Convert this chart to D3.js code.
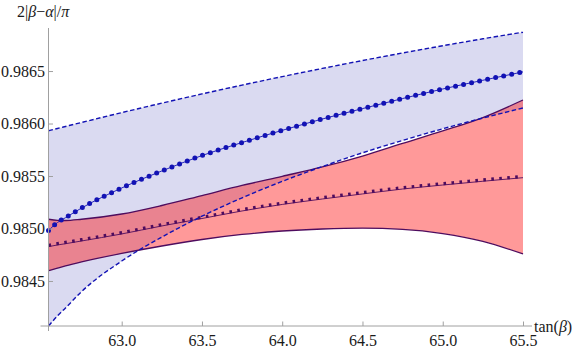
<!DOCTYPE html>
<html>
<head>
<meta charset="utf-8">
<script src="https://cdn.jsdelivr.net/npm/d3@7"></script>
<style>
  body { margin: 0; background: #fff; }
  svg { display: block; }
  svg text { font-family: "Liberation Serif", "Times New Roman", Times, "DejaVu Serif", serif !important; }
</style>
</head>
<body>
<svg id="chart" width="581" height="352"></svg>
<script>
// tan(beta) sample positions
var tanB = [62.544, 62.6, 62.65, 62.75, 63.0, 63.25, 63.5, 63.75, 64.0, 64.25, 64.5, 64.75, 65.0, 65.25, 65.5];

// blue band (dashed edges) and its central dotted curve
var blueUpper = [0.985931, 0.985953, 0.985972, 0.986010, 0.986104, 0.986194, 0.986282, 0.986366, 0.986447, 0.986525, 0.986600, 0.986672, 0.986741, 0.986807, 0.986870];
var blueLower = [0.984071, 0.984167, 0.984243, 0.984399, 0.984690, 0.984918, 0.985117, 0.985292, 0.985449, 0.985590, 0.985721, 0.985839, 0.985950, 0.986052, 0.986148];
var blueMid   = [0.984981, 0.985057, 0.985103, 0.985195, 0.985386, 0.985548, 0.985695, 0.985819, 0.985935, 0.986043, 0.986142, 0.986238, 0.986329, 0.986412, 0.986492];

// red band (solid edges) and its central triangle curve
var redUpper = [0.985088, 0.985078, 0.985076, 0.985088, 0.985138, 0.985219, 0.985314, 0.985410, 0.985497, 0.985586, 0.985690, 0.985810, 0.985929, 0.986057, 0.986224];
var redMid   = [0.984827, 0.984843, 0.984855, 0.984881, 0.984948, 0.985024, 0.985095, 0.985167, 0.985229, 0.985281, 0.985329, 0.985376, 0.985414, 0.985450, 0.985484];
var redLower = [0.984598, 0.984622, 0.984643, 0.984681, 0.984762, 0.984833, 0.984895, 0.984943, 0.984976, 0.984995, 0.985003, 0.984992, 0.984952, 0.984878, 0.984757];

// ticks
var xMajor = [63.0, 63.5, 64.0, 64.5, 65.0, 65.5];
var yMajor = [0.9845, 0.9850, 0.9855, 0.9860, 0.9865];

var serif = "'Liberation Serif', 'Times New Roman', Times, 'DejaVu Serif', serif";

var svg = d3.select("#chart");

var x = d3.scaleLinear().domain([62.544, 65.5]).range([48.5, 523]);
var y = d3.scaleLinear().domain([0.984071, 0.98691]).range([326, 28]);

var xMinor = d3.range(62.6, 65.55, 0.1).map(function(d) { return +d.toFixed(1); });
var yMinor = d3.range(0.9841, 0.98695, 0.0001).map(function(d) { return +d.toFixed(4); });

function series(vals) {
    return tanB.map(function(t, i) { return [t, vals[i]]; });
}
function band(lo, hi) {
    return tanB.map(function(t, i) { return [t, lo[i], hi[i]]; });
}

var line = d3.line()
    .x(function(d) { return x(d[0]); })
    .y(function(d) { return y(d[1]); })
    .curve(d3.curveMonotoneX);

var area = d3.area()
    .x(function(d) { return x(d[0]); })
    .y0(function(d) { return y(d[1]); })
    .y1(function(d) { return y(d[2]); })
    .curve(d3.curveMonotoneX);

var plot = svg.append("g");

/* fills */
plot.append("path")
    .attr("d", area(band(blueLower, blueUpper)))
    .style("fill", "#dadaf1");

plot.append("path")
    .attr("d", area(band(redLower, redUpper)))
    .style("fill", "rgba(255,0,0,0.4)");

/* red curves */
var purple = "#4e0c5e";
[redUpper, redLower].forEach(function(v) {
    plot.append("path")
        .attr("d", line(series(v)))
        .style("fill", "none")
        .style("stroke", purple)
        .style("stroke-width", 1.3);
});

plot.append("path")
    .attr("d", line(series(redMid)))
    .style("fill", "none")
    .style("stroke", purple)
    .style("stroke-width", 0.9);

// little triangle-ish marks along the middle red curve
plot.append("path")
    .attr("d", line(series(redMid)))
    .attr("transform", "translate(0,-1.3)")
    .style("fill", "none")
    .style("stroke", purple)
    .style("stroke-width", 3.2)
    .style("stroke-dasharray", "2.6 5.4");

/* blue curves */
var blue = "#1212b4";
[blueUpper, blueLower].forEach(function(v) {
    plot.append("path")
        .attr("d", line(series(v)))
        .style("fill", "none")
        .style("stroke", blue)
        .style("stroke-width", 1.4)
        .style("stroke-dasharray", "4.5 2.5");
});

plot.append("path")
    .attr("d", line(series(blueMid)))
    .style("fill", "none")
    .style("stroke", blue)
    .style("stroke-width", 0.9);

plot.append("path")
    .attr("d", line(series(blueMid)))
    .style("fill", "none")
    .style("stroke", blue)
    .style("stroke-width", 5)
    .style("stroke-linecap", "round")
    .style("stroke-dasharray", "0 8.2");

/* axes */
var axisColor = "#a0a0a0";

var gx = svg.append("g").attr("transform", "translate(0," + y.range()[0] + ")");
gx.call(d3.axisBottom(x).tickValues(xMinor).tickSize(-2.5).tickFormat(""));
gx.call(d3.axisBottom(x).tickValues(xMajor).tickSize(-4.5).tickPadding(9).tickFormat(d3.format(".1f")));

var gy = svg.append("g").attr("transform", "translate(" + x.range()[0] + ",0)");
gy.call(d3.axisLeft(y).tickValues(yMinor).tickSize(-2.5).tickFormat(""));
gy.call(d3.axisLeft(y).tickValues(yMajor).tickSize(-4.5).tickPadding(3.5).tickFormat(d3.format(".4f")));

svg.selectAll(".domain").remove();
svg.selectAll("g").attr("font-family", serif);
svg.selectAll(".tick line").style("stroke", axisColor);
svg.selectAll(".tick text").style("font-size", "16px").style("fill", "#1a1a1a")
    .style("font-family", serif);

// axis lines (Mathematica style, slightly overhanging)
svg.append("line")
    .attr("x1", x.range()[0] - 8).attr("x2", x.range()[1] + 9)
    .attr("y1", y.range()[0]).attr("y2", y.range()[0])
    .style("stroke", axisColor);
svg.append("line")
    .attr("x1", x.range()[0]).attr("x2", x.range()[0])
    .attr("y1", y.range()[0] + 5).attr("y2", y.range()[1])
    .style("stroke", axisColor);

/* axis labels */
var yl = svg.append("text")
    .attr("x", 17).attr("y", 17)
    .style("font-family", serif)
    .style("font-size", "16px").style("fill", "#1a1a1a");
yl.append("tspan").text("2|");
yl.append("tspan").style("font-style", "italic").text("β");
yl.append("tspan").text("−");
yl.append("tspan").style("font-style", "italic").text("α");
yl.append("tspan").text("|/");
yl.append("tspan").style("font-style", "italic").text("π");

var xl = svg.append("text")
    .attr("x", 534).attr("y", 332)
    .style("font-family", serif)
    .style("font-size", "16px").style("fill", "#1a1a1a");
xl.append("tspan").text("tan(");
xl.append("tspan").style("font-style", "italic").text("β");
xl.append("tspan").text(")");
</script>
</body>
</html>
